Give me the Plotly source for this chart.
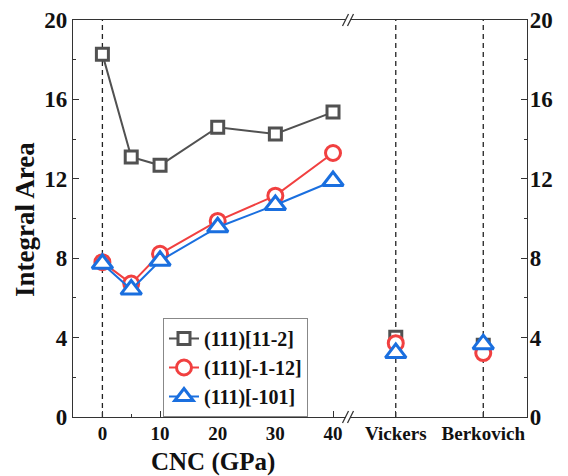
import plotly.graph_objects as go

# ---- data ----
cnc = [0, 5, 10, 20, 30, 40]
s_112 = [18.28, 13.10, 12.68, 14.60, 14.26, 15.36]
s_m1m12 = [7.80, 6.72, 8.22, 9.88, 11.15, 13.30]
s_m101 = [7.72, 6.42, 7.87, 9.56, 10.68, 11.89]

methods = ["Vickers", "Berkovich"]
m_112 = [4.02, 3.62]
m_m1m12 = [3.72, 3.22]
m_m101 = [3.22, 3.67]

names = ["(111)[11-2]", "(111)[-1-12]", "(111)[-101]"]
colors = ["#515151", "#F14040", "#1A6FDF"]
symbols = ["square", "circle", "triangle-up"]
sizes = [12, 15, 18]

y_ticks = [0, 4, 8, 12, 16, 20]
x_ticks = [0, 10, 20, 30, 40]

FONT = "Liberation Serif"
AX = "#333333"

# layout geometry
L, R, T, B = 73, 41, 20, 59
W, H = 568, 476
pw = W - L - R
ph = H - T - B
brk = (348 - L) / pw

fig = go.Figure()

series_cnc = [s_112, s_m1m12, s_m101]
series_m = [m_112, m_m1m12, m_m101]
for i in range(3):
    fig.add_trace(go.Scatter(
        x=cnc, y=series_cnc[i], name=names[i], mode="lines+markers",
        line=dict(color=colors[i], width=2),
        marker=dict(symbol=symbols[i], size=sizes[i], color="white",
                    line=dict(color=colors[i], width=3)),
        xaxis="x", yaxis="y", legendgroup=names[i]))
for i in range(3):
    fig.add_trace(go.Scatter(
        x=methods, y=series_m[i], name=names[i], mode="markers",
        marker=dict(symbol=symbols[i], size=sizes[i], color="white",
                    line=dict(color=colors[i], width=3)),
        xaxis="x2", yaxis="y", showlegend=False, legendgroup=names[i]))

# invisible trace for right axis
fig.add_trace(go.Scatter(x=methods, y=[None, None], xaxis="x2", yaxis="y2",
                         showlegend=False, hoverinfo="skip"))

tickfont_y = dict(family=FONT, size=23, color="#111", weight="bold")
tickfont_x = dict(family=FONT, size=19, color="#111", weight="bold")

fig.update_layout(
    width=W, height=H, margin=dict(l=L, r=R, t=T, b=B),
    plot_bgcolor="white", paper_bgcolor="white",
    xaxis=dict(domain=[0, brk], range=[-5.1, 42.6], tickvals=x_ticks,
               ticks="inside", ticklen=6, tickwidth=1.3, tickcolor=AX,
               minor=dict(dtick=5, ticks="inside", ticklen=3, tickwidth=1.2, tickcolor=AX),
               showline=True, linecolor=AX, linewidth=1.3, mirror=True,
               showgrid=False, zeroline=False, tickfont=tickfont_x,
               ticklabelstandoff=-1, anchor="y", automargin=False),
    xaxis2=dict(domain=[brk, 1], type="category", categoryarray=methods,
                range=[-0.546, 1.5], ticks="inside", ticklen=6, tickwidth=1.3,
                tickcolor=AX, showline=True, linecolor=AX, linewidth=1.3,
                mirror=True, showgrid=False, zeroline=False, tickfont=tickfont_x,
                ticklabelstandoff=-1, anchor="y", automargin=False),
    yaxis=dict(range=[0, 20], tickvals=y_ticks, ticks="inside", ticklen=6,
               tickwidth=1.3, tickcolor=AX,
               minor=dict(dtick=2, ticks="inside", ticklen=3, tickwidth=1.2, tickcolor=AX),
               showline=True, linecolor=AX, linewidth=1.3, showgrid=False,
               zeroline=False, tickfont=tickfont_y, anchor="x", automargin=False),
    yaxis2=dict(range=[0, 20], tickvals=y_ticks, ticks="inside", ticklen=6,
                tickwidth=1.3, tickcolor=AX, overlaying="y", side="right",
                anchor="x2",
                minor=dict(dtick=2, ticks="inside", ticklen=3, tickwidth=1.2, tickcolor=AX),
                showline=True, linecolor=AX, linewidth=1.3, showgrid=False,
                zeroline=False, tickfont=tickfont_y, ticklabelstandoff=-3,
                automargin=False),
    legend=dict(x=(163 - L) / pw, y=(H - B - 318) / ph, xanchor="left",
                yanchor="top", bordercolor="#888", borderwidth=1, bgcolor="white",
                font=dict(family=FONT, size=20, color="#111", weight="bold"),
                tracegroupgap=0),
    showlegend=True,
)

# dashed reference lines
for xr, xv in [("x", 0), ("x2", "Vickers"), ("x2", "Berkovich")]:
    fig.add_shape(type="line", xref=xr, yref="y", x0=xv, x1=xv, y0=0, y1=20,
                  line=dict(color="#222", width=1.3, dash="5px,4px"), layer="below")

# axis break marks
for yp in [0, 1]:
    fig.add_shape(type="line", xref="paper", yref="paper", xsizemode="pixel",
                  ysizemode="pixel", xanchor=brk, yanchor=yp,
                  x0=-2, x1=2, y0=0, y1=0, line=dict(color="white", width=3))
    for off in [-2.5, 2.5]:
        fig.add_shape(type="line", xref="paper", yref="paper", xsizemode="pixel",
                      ysizemode="pixel", xanchor=brk, yanchor=yp,
                      x0=off - 3, x1=off + 3, y0=-6, y1=6,
                      line=dict(color=AX, width=1.3))

# axis titles
fig.add_annotation(text="Integral Area", xref="paper", yref="paper",
                   x=(25 - L) / pw, y=(H - B - 220) / ph, textangle=-90,
                   showarrow=False, xanchor="center", yanchor="middle",
                   font=dict(family=FONT, size=27, color="#111", weight="bold"))
fig.add_annotation(text="CNC (GPa)", xref="paper", yref="paper",
                   x=(212.7 - L) / pw, y=(H - B - 462) / ph,
                   showarrow=False, xanchor="center", yanchor="middle",
                   font=dict(family=FONT, size=25, color="#111", weight="bold"))

fig.write_html("out.html", config={"displayModeBar": False},
               post_script="document.body.style.margin='0px';")
